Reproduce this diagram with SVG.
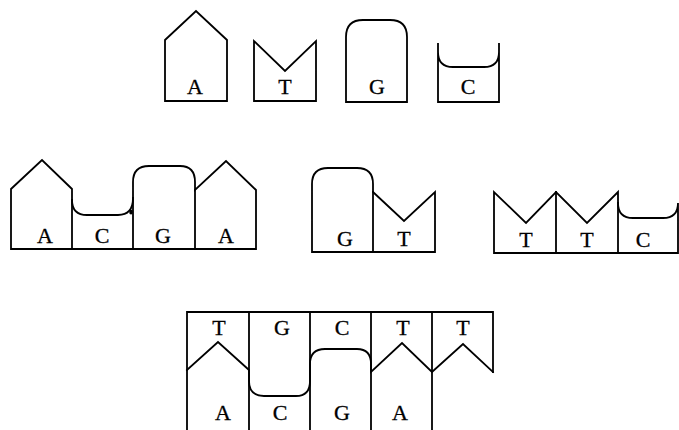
<svg xmlns="http://www.w3.org/2000/svg" width="679" height="430" viewBox="0 0 679 430">
  <style>
    .shape { fill: none; stroke: #000; stroke-width: 1.8; stroke-linejoin: miter; stroke-linecap: square; }
    .lbl { font-family: "Liberation Serif", "Times New Roman", serif; font-size: 22px; fill: #000; stroke: #000; stroke-width: 0.3; text-anchor: middle; }
  </style>
  <rect width="679" height="430" fill="#fff"/>

  <!-- Row 1: the four single bases -->
  <g id="base-A">
    <path class="shape" d="M165,101 V40 L196,11 L227,40 V101 Z"/>
    <text class="lbl" x="195" y="94">A</text>
  </g>
  <g id="base-T">
    <path class="shape" d="M254,101 V41 L285,71 L316,41 V101 Z"/>
    <text class="lbl" x="285" y="94">T</text>
  </g>
  <g id="base-G">
    <path class="shape" d="M346,102 V37 Q346,20 363,20 H390 Q407,20 407,37 V102 Z"/>
    <text class="lbl" x="377" y="94">G</text>
  </g>
  <g id="base-C">
    <path class="shape" d="M438,44 V52 Q438,67 453,67 H484 Q499,67 499,52 V44 M438,44 V102 H499 V44"/>
    <text class="lbl" x="468" y="94">C</text>
  </g>

  <!-- Row 2: strand ACGA -->
  <g id="strand-ACGA">
    <path class="shape" d="M11,249 V189 L42,160 L72,189 V200 Q72,215 87,215 H118 Q133,215 133,198 V182 Q133,166 149,166 H180 Q195,166 195,182 V190 L226,161 L256,190 V249 Z"/>
    <line class="shape" x1="72" y1="200" x2="72" y2="249"/>
    <line class="shape" x1="133" y1="198" x2="133" y2="249"/>
    <line class="shape" x1="195" y1="190" x2="195" y2="249"/>
    <ellipse cx="131" cy="212" rx="1.8" ry="2.6" fill="#000"/>
    <text class="lbl" x="45" y="243">A</text>
    <text class="lbl" x="102" y="243">C</text>
    <text class="lbl" x="163" y="243">G</text>
    <text class="lbl" x="226" y="243">A</text>
  </g>

  <!-- Row 2: strand GT -->
  <g id="strand-GT">
    <path class="shape" d="M312,252 V184 Q312,168 328,168 H357 Q373,168 373,184 V192 L404,221 L435,192 V252 Z"/>
    <line class="shape" x1="373" y1="192" x2="373" y2="252"/>
    <text class="lbl" x="345" y="246">G</text>
    <text class="lbl" x="404" y="246">T</text>
  </g>

  <!-- Row 2: strand TTC -->
  <g id="strand-TTC">
    <path class="shape" d="M494,253 V192 L526,223 L556,192 L587,223 L618,192 V203 Q618,218 633,218 H663 Q678,218 678,203 V253 Z"/>
    <line class="shape" x1="556" y1="192" x2="556" y2="253"/>
    <line class="shape" x1="618" y1="203" x2="618" y2="253"/>
    <text class="lbl" x="526" y="247">T</text>
    <text class="lbl" x="587" y="247">T</text>
    <text class="lbl" x="643" y="247">C</text>
  </g>

  <!-- Row 3: paired strands TGCTT over ACGA -->
  <g id="duplex">
    <path class="shape" d="M187,430 V312 H493 V372"/>
    <line class="shape" x1="249" y1="312" x2="249" y2="430"/>
    <line class="shape" x1="310" y1="312" x2="310" y2="430"/>
    <line class="shape" x1="371" y1="312" x2="371" y2="430"/>
    <line class="shape" x1="432" y1="312" x2="432" y2="430"/>
    <path class="shape" d="M187,370 L218,342 L249,370 V381 Q249,396 264,396 H296 Q310,396 310,381 V364 Q310,349 325,349 H357 Q371,349 371,364 V372 L402,343 L432,372 L463,344 L493,372"/>
    <text class="lbl" x="219" y="335">T</text>
    <text class="lbl" x="282" y="335">G</text>
    <text class="lbl" x="342" y="335">C</text>
    <text class="lbl" x="403" y="335">T</text>
    <text class="lbl" x="463" y="335">T</text>
    <text class="lbl" x="223" y="420">A</text>
    <text class="lbl" x="280" y="420">C</text>
    <text class="lbl" x="342" y="420">G</text>
    <text class="lbl" x="400" y="420">A</text>
  </g>
</svg>
